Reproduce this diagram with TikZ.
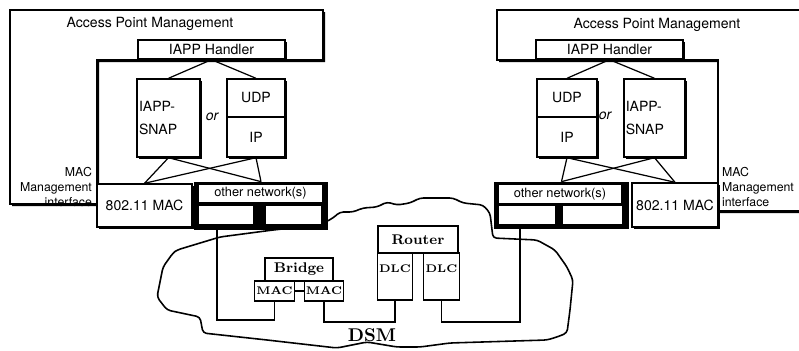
\documentclass[tikz,border=0pt]{standalone}
\usepackage{fontspec}
\setsansfont{TeX Gyre Heros}
\usetikzlibrary{shadows}

\begin{document}
\begin{tikzpicture}[x=0.02cm, y=-0.02cm,
  sz/.style 2 args={minimum width=#1*0.02cm, minimum height=#2*0.02cm},
  shd/.style={drop shadow={shadow xshift=1.2pt, shadow yshift=-1.2pt, fill=black, opacity=1}},
  apfont/.style={font=\sffamily\fontsize{8}{9}\selectfont},
  apbox/.style={draw, line width=0.8pt, fill=white, inner sep=1pt, apfont},
  netframe/.style={fill=black, inner sep=0pt},
  netbox/.style={fill=white, inner sep=0pt, font=\sffamily\fontsize{7.3}{8}\selectfont},
  dsmbox/.style={draw, line width=0.7pt, fill=white, inner sep=1pt, font=\bfseries\fontsize{8}{9}\selectfont},
  tiny/.style={font=\bfseries\fontsize{6.3}{7}\selectfont},
  mgmt/.style={font=\sffamily\fontsize{7}{8.5}\selectfont, inner sep=1pt},
  link/.style={line width=0.7pt},
  wire/.style={line width=0.8pt}]
\clip (0,0) rectangle (799,351);

% access point frames
\path[draw, line width=0.8pt, fill=white, shd] (10,10) -- (323,10) -- (323,60) -- (97,60) -- (97,204) -- (10,204) -- cycle;
\path[draw, line width=0.8pt, fill=white, shd] (497,10) -- (812,10) -- (812,211) -- (718,211) -- (718,60) -- (497,60) -- cycle;

% distribution system medium
\draw[line width=0.9pt, rounded corners=2pt] (177,250) -- (220,237) -- (273,230) -- (320,225) -- (333,218)
  -- (340,212) -- (353,212) -- (363,208) -- (377,207) -- (387,202) -- (397,205) -- (410,203) -- (420,198)
  -- (453,198) -- (463,203) -- (483,205) -- (490,213) -- (493,238) -- (537,240) -- (555,250) -- (567,267)
  -- (573,280) -- (570,310) -- (567,333) -- (557,337) -- (547,340) -- (450,343) -- (420,347) -- (397,347)
  -- (367,342) -- (337,348) -- (267,340) -- (203,333) -- (200,317) -- (167,310) -- (157,297) -- (163,267)
  -- (173,253) -- cycle;

% left access point
\node[apfont] (apmL) at (150,24) {Access Point Management};
\node[apbox, shd, sz={147}{19}] (handlerL) at (211.5,49.5) {IAPP Handler};
\node[apbox, shd, sz={63}{78}, align=left, text width=1.18cm, font=\sffamily\fontsize{8}{13}\selectfont] (snapL) at (168.5,118) {IAPP-\\SNAP};
\node[apbox, shd, sz={58}{38}] (udpL) at (256,98) {UDP};
\node[apbox, shd, sz={58}{40}] (ipL) at (256,137) {IP};
\node[font=\sffamily\itshape\fontsize{8}{9}\selectfont] (orL) at (212,117) {or};
\node[apbox, shd, sz={95}{43}] (macL) at (144.5,205.5) {802.11 MAC};
\node[netframe, sz={134}{48}] (otherL) at (261,206) {};
\node[netbox, sz={123}{17}] (netL) at (260.5,193.5) {other network(s)};
\node[netbox, sz={54}{18}] (portLa) at (226,215) {};
\node[netbox, sz={55}{18}] (portLb) at (293.5,215) {};
\node[mgmt, anchor=east, align=right] (mgmtL) at (94,187) {MAC\\Management\\interface};

% right access point
\node[apfont] (apmR) at (657,25) {Access Point Management};
\node[apbox, shd, sz={147}{19}] (handlerR) at (609.5,49.5) {IAPP Handler};
\node[apbox, shd, sz={60}{38}] (udpR) at (567,98) {UDP};
\node[apbox, shd, sz={60}{40}] (ipR) at (567,137) {IP};
\node[apbox, shd, sz={61}{78}, align=left, text width=1.15cm, font=\sffamily\fontsize{8}{13}\selectfont] (snapR) at (654.5,118) {IAPP-\\SNAP};
\node[font=\sffamily\itshape\fontsize{8}{9}\selectfont] (orR) at (605,116) {or};
\node[netframe, sz={135}{47}] (otherR) at (561.5,205.5) {};
\node[netbox, sz={122}{18}] (netR) at (560,194) {other network(s)};
\node[netbox, sz={56}{18}] (portRa) at (527,215) {};
\node[netbox, sz={59}{18}] (portRb) at (592.5,215) {};
\node[apbox, shd, sz={86}{44}] (macR) at (675,205) {802.11 MAC};
\node[mgmt, anchor=west, align=left] (mgmtR) at (720,187) {MAC\\Management\\interface};

% protocol links
\draw[link] (handlerL.south) -- (snapL.north);
\draw[link] (handlerL.south) -- (udpL.north);
\draw[link] (snapL.south) -- (macL.north);
\draw[link] (snapL.south) -- (otherL.north);
\draw[link] (ipL.south) -- (macL.north);
\draw[link] (ipL.south) -- (otherL.north);
\draw[link] (handlerR.south) -- (udpR.north);
\draw[link] (handlerR.south) -- (snapR.north);
\draw[link] (ipR.south) -- (otherR.north);
\draw[link] (ipR.south) -- (macR.north);
\draw[link] (snapR.south) -- (otherR.north);
\draw[link] (snapR.south) -- (macR.north);

% bridge and router
\node[dsmbox, sz={68}{23}] (bridge) at (299,269.5) {Bridge};
\node[dsmbox, tiny, sz={37}{20}] (bmacA) at (274.5,291) {MAC};
\node[dsmbox, tiny, sz={36}{20}] (bmacB) at (324,291) {MAC};
\node[dsmbox, sz={80}{27}] (router) at (418,239.5) {Router};
\node[dsmbox, tiny, sz={34}{47}, text depth=9pt] (dlcA) at (395,276.5) {DLC};
\node[dsmbox, tiny, sz={33}{47}, text depth=9pt] (dlcB) at (441.5,276.5) {DLC};
\node[font=\bfseries\fontsize{10.5}{12}\selectfont] (dsm) at (372,335) {DSM};

% wiring
\coordinate (wireL) at (217,320);
\coordinate (wireM) at (0,322);
\coordinate (wireR) at (520,322);
\draw[wire] (bmacA.east) -- (bmacB.west);
\draw[wire] (portLa.south -| wireL) -- (wireL) -| (bmacA.south);
\draw[wire] (bmacB.south) -- (bmacB.south |- wireM) -| (dlcA.south);
\draw[wire] (dlcB.south) |- (wireR) -- (wireR |- portRa.south);
\end{tikzpicture}
\end{document}
